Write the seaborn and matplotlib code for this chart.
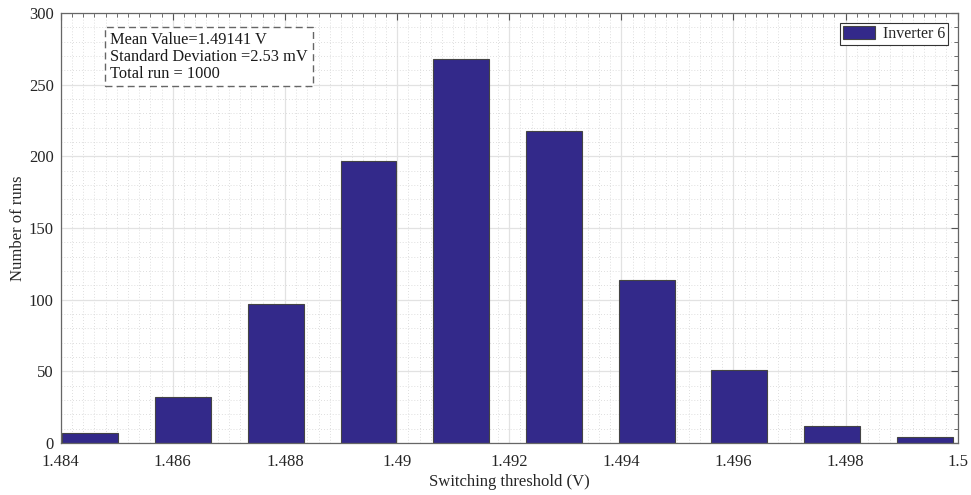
import numpy as np
import pandas as pd
import seaborn as sns
import matplotlib.pyplot as plt
from matplotlib.ticker import MultipleLocator, FormatStrFormatter

# bin centres (V) and counts
centres = [1.48453, 1.48618, 1.48784, 1.48949, 1.49114,
           1.49280, 1.49445, 1.49610, 1.49776, 1.49941]
counts = [7, 32, 97, 197, 268, 218, 114, 51, 12, 4]
series_name = 'Inverter 6'
stats_lines = ['Mean Value=1.49141 V',
               'Standard Deviation =2.53 mV',
               'Total run = 1000']

df = pd.DataFrame({'threshold': centres, 'runs': counts, 'series': series_name})

sns.set_style('white')
plt.rcParams['font.family'] = ['Liberation Serif', 'DejaVu Serif']
plt.rcParams['font.size'] = 12

fig = plt.figure(figsize=(9.71, 4.95), dpi=100)
ax = fig.add_axes([60.7 / 971, 1 - 443 / 495, 897 / 971, 430 / 495])

bar_color = '#33298a'
sns.barplot(data=df, x='threshold', y='runs', hue='series', native_scale=True,
            width=0.605, palette=[bar_color], edgecolor='#444444', linewidth=0.8,
            saturation=1, ax=ax)

ax.set_xlim(1.484, 1.5)
ax.set_ylim(0, 300)
ax.xaxis.set_major_locator(MultipleLocator(0.002))
ax.xaxis.set_minor_locator(MultipleLocator(0.0002))
ax.yaxis.set_major_locator(MultipleLocator(50))
ax.yaxis.set_minor_locator(MultipleLocator(10))
ax.xaxis.set_major_formatter(FormatStrFormatter('%g'))
ax.yaxis.set_major_formatter(FormatStrFormatter('%g'))

ax.set_axisbelow(True)
ax.grid(which='major', color='#e2e2e2', linewidth=0.9, linestyle='-')
ax.grid(which='minor', color='#d4d4d4', linewidth=0.6, linestyle=(0, (1, 2.5)))

ax.tick_params(which='both', direction='in', top=True, right=True,
               colors='#555555', labelcolor='#262626', labelsize=12)
ax.tick_params(which='major', length=5, width=0.8)
ax.tick_params(which='minor', length=3, width=0.6)
ax.tick_params(axis='x', which='major', pad=8)
ax.tick_params(axis='y', which='major', pad=5)
for s in ax.spines.values():
    s.set_color('#666666')
    s.set_linewidth(0.9)

ax.set_xlabel('Switching threshold (V)', fontsize=12, color='#262626', labelpad=3)
ax.set_ylabel('Number of runs', fontsize=12, color='#262626', labelpad=2)

leg = ax.legend(loc='upper right', fancybox=False, framealpha=1, fontsize=11.5,
                edgecolor='#333333', handlelength=2.0, handleheight=0.9,
                borderaxespad=0.6, borderpad=0.2, handletextpad=0.5)
leg.get_frame().set_linewidth(0.8)

ax.text(0.055, 0.955, '\n'.join(stats_lines), transform=ax.transAxes,
        ha='left', va='top', fontsize=11.8, color='#1a1a1a', linespacing=1.05,
        bbox=dict(boxstyle='square,pad=0.3', facecolor='white',
                  edgecolor='#666666', linestyle=(0, (5, 3)), linewidth=1))

fig.savefig('out.png', dpi=100)
